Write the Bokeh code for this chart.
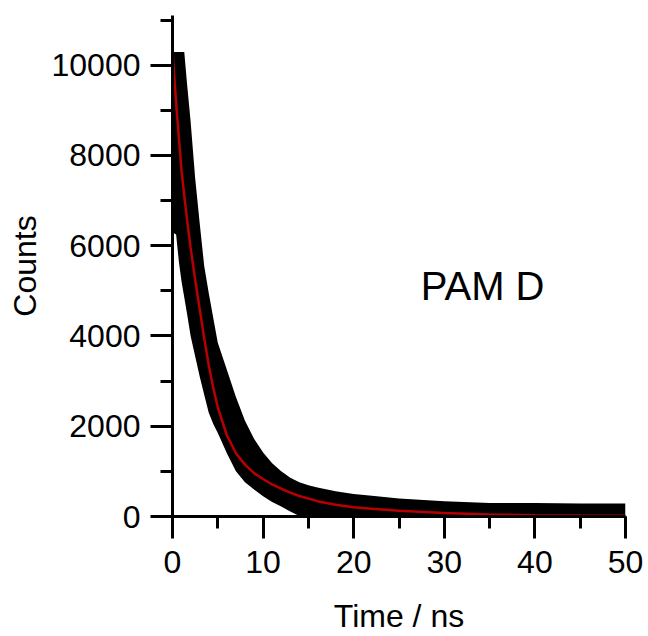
from bokeh.plotting import figure
from bokeh.models import Range1d, SingleIntervalTicker, Label
from bokeh.embed import file_html
from bokeh.resources import INLINE

# Measured decay (black band: data scatter envelope), times in ns
t_data = [0, 0.4, 0.7, 1.0, 1.3, 1.6, 2.0, 2.5, 3.0, 3.5, 4, 4.5, 5, 6, 7, 8, 9, 10,
          11, 12, 13, 14, 15, 16, 18, 20, 22, 25, 30, 35, 40, 45, 50]
counts_upper = [10290, 10290, 10290, 10290, 10290, 9600, 8750, 7500, 6500, 5550, 4950, 4400,
                3850, 3250, 2650, 2120, 1720, 1420, 1180, 1000, 860, 760, 690, 640, 560, 500,
                460, 400, 340, 300, 300, 290, 290]
counts_lower = [6300, 6250, 5650, 5200, 4850, 4500, 4000, 3550, 3100, 2700, 2300, 2050,
                1850, 1400, 1000, 760, 600, 450, 320, 220, 110, 10, 0, 0, 0, 0,
                0, 0, 0, 0, 0, 0, 0]

# Fit curve (red)
t_fit = [0, 0.5, 1, 1.5, 2, 2.5, 3, 3.5, 4, 4.5, 5, 6, 7, 8, 9, 10, 11, 12, 13, 14,
         16, 18, 20, 22, 25, 30, 35, 40, 45, 50]
counts_fit = [10290, 8900, 7650, 6750, 5950, 5250, 4600, 3950, 3350, 2850, 2420, 1800, 1400,
              1150, 960, 830, 710, 615, 530, 455, 340, 260, 205, 170, 130, 80, 45, 30, 20, 15]

x_label = "Time / ns"
y_label = "Counts"
annotation_text = "PAM D"
annotation_pos = (27.4, 5100)

FONT = "Liberation Sans"

p = figure(width=648, height=636, output_backend="svg", toolbar_location=None,
           x_range=Range1d(0, 50), y_range=Range1d(0, 11100),
           min_border_left=172, min_border_right=23, min_border_top=15, min_border_bottom=118)
p.outline_line_color = None
p.xgrid.visible = False
p.ygrid.visible = False
p.background_fill_color = "white"
p.border_fill_color = "white"

p.varea(x=t_data, y1=counts_lower, y2=counts_upper, fill_color="black")
p.line(x=t_fit, y=counts_fit, line_color="#b80000", line_width=2.5)

p.xaxis.ticker = SingleIntervalTicker(interval=10, num_minor_ticks=2)
p.yaxis.ticker = SingleIntervalTicker(interval=2000, num_minor_ticks=2)
for ax in (p.xaxis[0], p.yaxis[0]):
    ax.axis_line_width = 3
    ax.axis_line_color = "black"
    ax.major_tick_line_width = 3
    ax.minor_tick_line_width = 3
    ax.major_tick_line_color = "black"
    ax.minor_tick_line_color = "black"
    ax.major_tick_out = 22
    ax.major_tick_in = 0
    ax.minor_tick_out = 12
    ax.minor_tick_in = 0
    ax.major_label_text_font = FONT
    ax.major_label_text_font_size = "32px"
    ax.major_label_text_color = "black"
    ax.axis_label_text_font = FONT
    ax.axis_label_text_font_size = "32px"
    ax.axis_label_text_font_style = "normal"
    ax.axis_label_text_color = "black"

p.xaxis.axis_label = x_label
p.yaxis.axis_label = y_label
p.xaxis.major_label_standoff = 12
p.yaxis.major_label_standoff = 10
p.xaxis.axis_label_standoff = 22
p.yaxis.axis_label_standoff = 6

p.add_layout(Label(x=annotation_pos[0], y=annotation_pos[1], text=annotation_text,
                   text_font=FONT, text_font_size="40px", text_color="black",
                   text_baseline="alphabetic", text_align="left"))

open("out.html", "w").write(file_html(p, INLINE))
